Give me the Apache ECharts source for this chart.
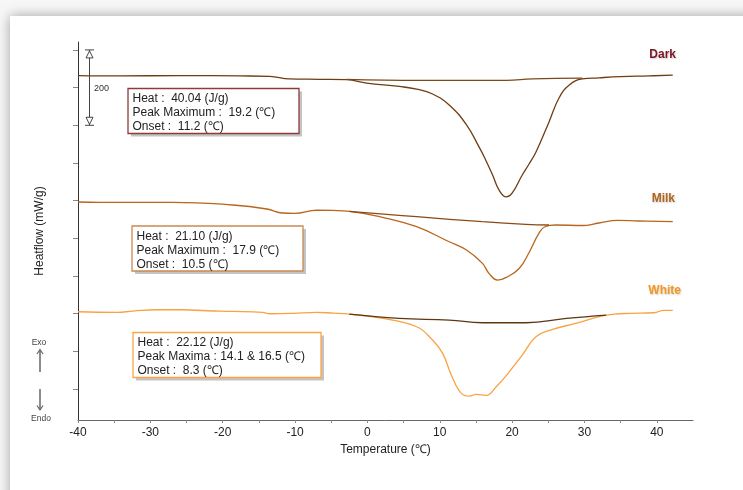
<!DOCTYPE html>
<html><head><meta charset="utf-8">
<script src="https://cdn.jsdelivr.net/npm/echarts@6/dist/echarts.min.js"></script>
<style>html,body{margin:0;padding:0;background:#f7f7f7;overflow:hidden}#c{width:743px;height:490px}</style>
</head><body><div id="c"></div>
<script>
// ---- data (Temperature in deg C, heatflow in mW/g with display offsets) ----
const xLabelValues = [-40, -30, -20, -10, 0, 10, 20, 30, 40];
const xTickValues = [-40, -35, -30, -25, -20, -15, -10, -5, 0, 5, 10, 15, 20, 25, 30, 35, 40];
const yTickValues = [0, 100, 200, 300, 400, 500, 600, 700, 800, 900];

const darkCurve = [
  [-40, 832], [-34.2, 831], [-25.9, 832], [-17.6, 831], [-13.5, 830], [-10.8, 823],
  [-6.6, 822], [-2.9, 821], [-0.1, 812], [4.4, 803], [6.8, 796], [9.0, 783],
  [11.3, 754], [13.7, 701], [15.5, 640], [16.2, 614], [17.3, 568], [18.2, 528],
  [19.2, 510], [20.0, 520], [21.4, 568], [22.3, 596], [23.3, 629], [25.1, 709],
  [26.5, 773], [27.9, 807], [29.7, 823], [32.0, 826], [35.0, 829], [38.9, 831], [42.2, 833]
];
const darkBase = [[-2.9, 822], [7.2, 819], [19.2, 819], [22.8, 823], [29.7, 825]];

const milkCurve = [
  [-40, 496.5], [-37.0, 495.7], [-26.9, 495.7], [-18.6, 488.5], [-13.9, 477.9],
  [-11.7, 467.3], [-10.1, 466.5], [-7.0, 474.5], [-4.8, 474], [-2.5, 471.8],
  [2.1, 455.9], [6.8, 430.9], [11.3, 391], [13.7, 369], [15.9, 333.7], [16.8, 307.2],
  [18.0, 289.4], [19.2, 296.6], [21.0, 320.5], [22.4, 364.5], [23.7, 413.4],
  [24.6, 431.4], [26.0, 435.4], [29.7, 434.1], [32.0, 440.7], [34.6, 447.9],
  [37.5, 446], [42.2, 444.2]
];
const milkBase = [[-2.5, 471.8], [6.8, 457.5], [15.9, 444.2], [21.9, 437.3], [25.1, 435.4]];

const whiteCurve = [
  [-40, 205.2], [-34.6, 203.6], [-32.4, 207.1], [-29.1, 210.5], [-25.5, 210.5],
  [-22.2, 207.9], [-18.6, 206.3], [-14.5, 203.6], [-13.5, 199.9], [-10.3, 201],
  [-7.0, 203.6], [-4.8, 201.8], [-2.5, 199.1], [2.1, 187.7], [6.8, 165.4],
  [9.0, 130.1], [10.4, 94.8], [11.7, 32.7], [13.1, -13.3], [14.1, -18.6],
  [15.0, -14.1], [16.4, -16.7], [17.8, 6.1], [19.6, 45.9], [21.4, 90.3],
  [23.3, 138.9], [25.6, 158.5], [28.8, 174.4], [32.0, 192], [34.1, 199.1],
  [36.4, 201], [39.6, 202.6], [41.0, 208.9], [42.2, 208.9]
];
const whiteBase = [[-2.5, 199.1], [4.4, 187.7], [11.3, 183.2], [15.9, 176], [21.9, 176], [27.5, 187.7], [33.0, 196.5]];

const sampleNames = ['Dark', 'Milk', 'White'];
const darkInfo = ['Heat :  40.04 (J/g)', 'Peak Maximum :  19.2 (\u2103)', 'Onset :  11.2 (\u2103)'];
const milkInfo = ['Heat :  21.10 (J/g)', 'Peak Maximum :  17.9 (\u2103)', 'Onset :  10.5 (\u2103)'];
const whiteInfo = ['Heat :  22.12 (J/g)', 'Peak Maxima : 14.1 & 16.5 (\u2103)', 'Onset :  8.3 (\u2103)'];
const scaleBarValues = [900, 700];

// ---- chart ----
const chart = echarts.init(document.getElementById('c'), null, { renderer: 'canvas' });
const FONT = '"Liberation Sans", Arial, sans-serif';

function lineSeries(name, data, color, z) {
  return {
    name, type: 'line', data, showSymbol: false, symbol: 'none',
    smooth: 0.45, z: z || 2,
    lineStyle: { color, width: 1.3 }, silent: true, animation: false
  };
}

chart.setOption({
  animation: false,
  backgroundColor: 'transparent',
  grid: { left: 78, top: 42, right: 50, bottom: 70 },
  xAxis: {
    type: 'value', min: -40, max: 45,
    name: 'Temperature (\u2103)', nameLocation: 'middle', nameGap: 21,
    nameTextStyle: { fontFamily: FONT, fontSize: 12, color: '#222' },
    axisLine: { onZero: false, lineStyle: { color: '#666', width: 1 } },
    axisTick: { show: true, length: 3, customValues: xTickValues, lineStyle: { color: '#888' } },
    axisLabel: { customValues: xLabelValues, fontFamily: FONT, fontSize: 12, color: '#222', margin: 7 },
    splitLine: { show: false }
  },
  yAxis: {
    type: 'value', min: -82, max: 921,
    name: 'Heatflow (mW/g)', nameLocation: 'middle', nameGap: 32, nameRotate: 90,
    nameTextStyle: { fontFamily: FONT, fontSize: 12, color: '#222' },
    axisLine: { show: true, onZero: false, lineStyle: { color: '#333', width: 1 } },
    axisTick: { show: true, length: 5, customValues: yTickValues, lineStyle: { color: '#888' } },
    axisLabel: { show: false },
    splitLine: { show: false }
  },
  series: [
    lineSeries('Dark', darkCurve, '#6e3d12'),
    lineSeries('Dark baseline', darkBase, '#7a4a1c', 3),
    lineSeries('Milk', milkCurve, '#b8661c'),
    lineSeries('Milk baseline', milkBase, '#8b4a14', 3),
    lineSeries('White', whiteCurve, '#f9a242'),
    lineSeries('White baseline', whiteBase, '#5c3812', 3)
  ]
});

// decorations
const yA = chart.convertToPixel({ yAxisIndex: 0 }, scaleBarValues[0]);
const yB = chart.convertToPixel({ yAxisIndex: 0 }, scaleBarValues[1]);
const bx = 89.5;

function infoBox(x, y, w, h, color, lines) {
  return {
    type: 'group', z: 10,
    children: [
      { type: 'rect', shape: { x: x + 3, y: y + 3, width: w, height: h }, style: { fill: '#c4c4c4' } },
      { type: 'rect', shape: { x: x, y: y, width: w, height: h },
        style: { fill: '#fff', stroke: color, lineWidth: 1.3 } },
      { type: 'text', x: x + 4.5, y: y + 3.5,
        style: { text: lines.join('\n'), font: '12px ' + FONT, fill: '#222', lineHeight: 14, verticalAlign: 'top' } }
    ]
  };
}
function sampleLabel(text, xr, yc, color) {
  return { type: 'text', x: xr, y: yc, z: 10,
    style: { text, font: 'bold 12px ' + FONT, fill: color, align: 'right', verticalAlign: 'middle',
      textShadowColor: 'rgba(0,0,0,0.2)', textShadowBlur: 2, textShadowOffsetX: 1, textShadowOffsetY: 1 } };
}
const axisGray = '#444';
chart.setOption({
  graphic: [
    { type: 'rect', z: -10, shape: { x: 10, y: 16, width: 760, height: 500 },
      style: { fill: '#fff', shadowColor: 'rgba(0,0,0,0.35)', shadowBlur: 12 } },
    // scale bar
    { type: 'line', z: 5, shape: { x1: bx, y1: yA, x2: bx, y2: yB }, style: { stroke: axisGray, lineWidth: 1 } },
    { type: 'line', z: 5, shape: { x1: bx - 4.5, y1: yA, x2: bx + 4.5, y2: yA }, style: { stroke: axisGray, lineWidth: 1 } },
    { type: 'line', z: 5, shape: { x1: bx - 4.5, y1: yB, x2: bx + 4.5, y2: yB }, style: { stroke: axisGray, lineWidth: 1 } },
    { type: 'polygon', z: 6, shape: { points: [[bx, yA + 1], [bx - 3.5, yA + 8], [bx + 3.5, yA + 8]] }, style: { fill: '#fff', stroke: axisGray, lineWidth: 1 } },
    { type: 'polygon', z: 6, shape: { points: [[bx, yB - 1], [bx - 3.5, yB - 8], [bx + 3.5, yB - 8]] }, style: { fill: '#fff', stroke: axisGray, lineWidth: 1 } },
    { type: 'text', z: 6, x: 94, y: (yA + yB) / 2 + 1, style: { text: String(scaleBarValues[0] - scaleBarValues[1]), font: '9px ' + FONT, fill: '#333', verticalAlign: 'middle' } },
    // exo / endo
    { type: 'text', x: 39, y: 343, style: { text: 'Exo', font: '8.5px ' + FONT, fill: '#444', align: 'center', verticalAlign: 'middle' } },
    { type: 'line', shape: { x1: 40, y1: 350, x2: 40, y2: 372 }, style: { stroke: '#666', lineWidth: 1.5 } },
    { type: 'polyline', shape: { points: [[37, 354], [40, 349.5], [43, 354]] }, style: { stroke: '#666', lineWidth: 1.2, fill: null } },
    { type: 'line', shape: { x1: 40, y1: 389, x2: 40, y2: 410 }, style: { stroke: '#666', lineWidth: 1.5 } },
    { type: 'polyline', shape: { points: [[37, 405.5], [40, 410], [43, 405.5]] }, style: { stroke: '#666', lineWidth: 1.2, fill: null } },
    { type: 'text', x: 41, y: 419, style: { text: 'Endo', font: '8.5px ' + FONT, fill: '#444', align: 'center', verticalAlign: 'middle' } },
    // sample labels
    sampleLabel(sampleNames[0], 676, 55, '#7b1422'),
    sampleLabel(sampleNames[1], 675, 199, '#b0641e'),
    sampleLabel(sampleNames[2], 681, 291, '#f7961f'),
    // info boxes
    infoBox(128, 88.5, 171, 45, '#8e3a3a', darkInfo),
    infoBox(132, 226, 171, 45, '#c98a52', milkInfo),
    infoBox(133, 332.5, 188, 45, '#ffa446', whiteInfo)
  ]
});
</script>
</body></html>
